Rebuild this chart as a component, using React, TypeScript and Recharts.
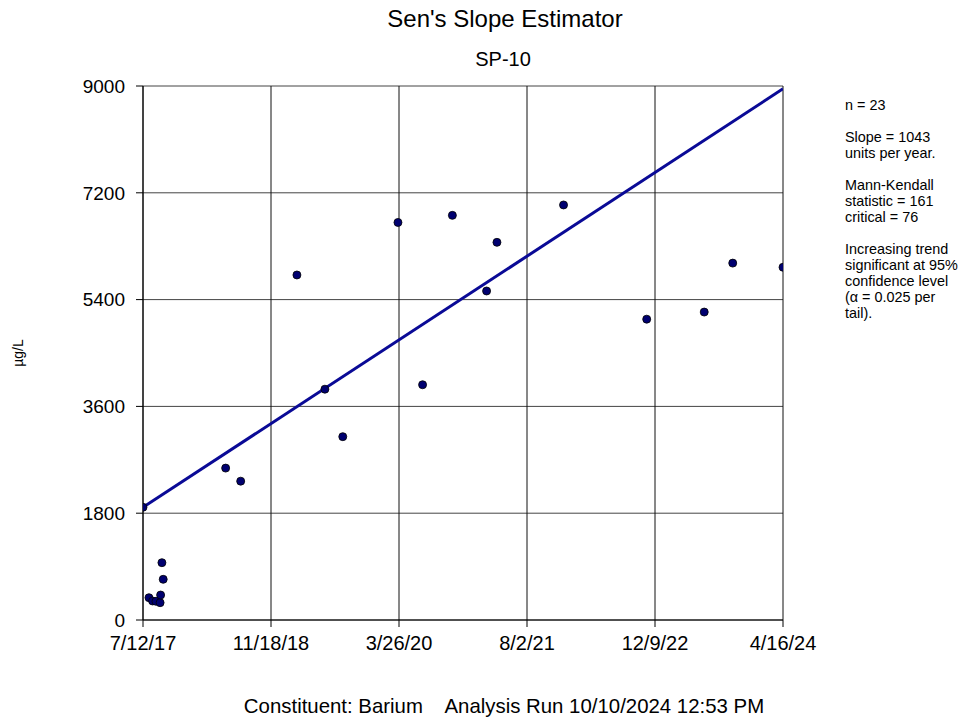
import React from 'react';
import { ScatterChart, Scatter, XAxis, YAxis, CartesianGrid } from 'recharts';

const sampleDates = [
  '2017-07-12', '2017-08-04', '2017-08-18', '2017-08-31', '2017-09-16', '2017-09-18',
  '2017-09-23', '2017-09-28', '2018-05-27', '2018-07-24', '2019-02-26', '2019-06-14',
  '2019-08-22', '2020-03-22', '2020-06-25', '2020-10-18', '2021-02-27', '2021-04-08',
  '2021-12-21', '2022-11-07', '2023-06-17', '2023-10-05', '2024-04-16',
];
const sampleValues = [
  1900, 376, 320, 315, 292, 421,
  966, 686, 2560, 2340, 5815, 3890,
  3090, 6700, 3965, 6820, 5545, 6365,
  6995, 5070, 5190, 6015, 5945,
];
const trendDates = ['2017-07-12', '2024-04-16'];
const trendValues = [1900, 8953];
const xTickLabels = ['7/12/17', '11/18/18', '3/26/20', '8/2/21', '12/9/22', '4/16/24'];
const yTicks = [0, 1800, 3600, 5400, 7200, 9000];
const statsLines = [
  'n = 23', '', 'Slope = 1043', 'units per year.', '', 'Mann-Kendall', 'statistic = 161',
  'critical = 76', '', 'Increasing trend', 'significant at 95%', 'confidence level',
  '(α = 0.025 per', 'tail).',
];

const iso = (s: string) => {
  const [y, m, d] = s.split('-').map(Number);
  return Date.UTC(y, m - 1, d);
};
const mdy = (s: string) => {
  const [m, d, y] = s.split('/').map(Number);
  return Date.UTC(2000 + y, m - 1, d);
};
const fmt = (t: number) => {
  const dt = new Date(t);
  return `${dt.getUTCMonth() + 1}/${dt.getUTCDate()}/${String(dt.getUTCFullYear()).slice(2)}`;
};

const points = sampleDates.map((d, i) => ({ x: iso(d), y: sampleValues[i] }));
const trend = trendDates.map((d, i) => ({ x: iso(d), y: trendValues[i] }));
const xTicks = xTickLabels.map(mdy);

const FONT = '"Liberation Sans", Arial, sans-serif';

const Dot = (props: any) => {
  const { cx, cy } = props;
  if (cx == null || cy == null) return null;
  return <circle cx={cx} cy={cy} r={4} fill="#000070" stroke="#000" strokeWidth={0.8} />;
};
const NoShape = () => null;

export default function App() {
  return (
    <div style={{ position: 'absolute', left: 0, top: 0, width: 962, height: 721, background: '#fff', fontFamily: FONT }}>
      <ScatterChart
        width={962}
        height={721}
        margin={{ top: 86, right: 179, bottom: 61, left: 8 }}
        style={{ fontFamily: FONT }}
      >
        <CartesianGrid horizontal vertical={false} stroke="#444" strokeWidth={1} horizontalValues={yTicks} />
        <CartesianGrid horizontal={false} vertical stroke="#111" strokeWidth={1} verticalValues={xTicks} />
        <XAxis
          type="number"
          dataKey="x"
          domain={[xTicks[0], xTicks[xTicks.length - 1]]}
          ticks={xTicks}
          tickFormatter={fmt}
          stroke="#000"
          tickSize={7}
          tickMargin={9}
          tick={{ fill: '#000', fontSize: 20 }}
          height={40}
          allowDataOverflow
        />
        <YAxis
          type="number"
          dataKey="y"
          domain={[0, 9000]}
          ticks={yTicks}
          stroke="#000"
          tickSize={7}
          tickMargin={11}
          tick={{ fill: '#000', fontSize: 19 }}
          width={135}
          label={{ value: 'µg/L', angle: -90, position: 'insideLeft', offset: 10, style: { fontSize: 14, fill: '#000', textAnchor: 'middle' } }}
        />
        <Scatter
          data={trend}
          line={{ stroke: '#0a0a96', strokeWidth: 3 }}
          lineType="joint"
          shape={NoShape}
          isAnimationActive={false}
        />
        <Scatter data={points} shape={Dot} isAnimationActive={false} />
      </ScatterChart>

      <div style={{ position: 'absolute', left: 0, width: 1010, top: 5, textAlign: 'center', fontSize: 24, color: '#000' }}>
        Sen's Slope Estimator
      </div>
      <div style={{ position: 'absolute', left: 0, width: 1006, top: 48, textAlign: 'center', fontSize: 20, color: '#000' }}>
        SP-10
      </div>
      <div style={{ position: 'absolute', left: 0, width: 1008, top: 695, textAlign: 'center', fontSize: 20.4, color: '#000', whiteSpace: 'pre' }}>
        {'Constituent: Barium    Analysis Run 10/10/2024 12:53 PM'}
      </div>
      <div style={{ position: 'absolute', left: 845, top: 97, fontSize: 14.4, lineHeight: '16px', color: '#000' }}>
        {statsLines.map((l, i) => (
          <div key={i} style={{ height: 16, whiteSpace: 'pre' }}>{l}</div>
        ))}
      </div>
    </div>
  );
}
